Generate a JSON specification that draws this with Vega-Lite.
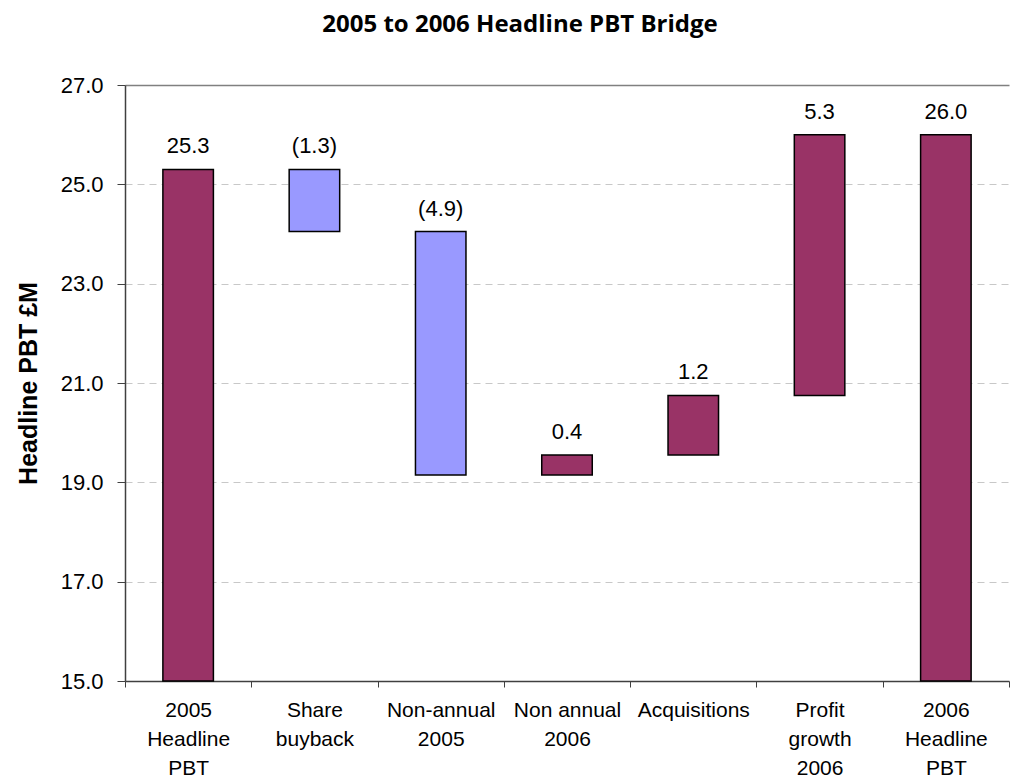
{
  "$schema": "https://vega.github.io/schema/vega-lite/v6.json",
  "width": 884,
  "height": 596,
  "autosize": {"type": "none"},
  "padding": {"left": 125, "top": 85, "right": 1, "bottom": 102},
  "background": "white",
  "title": {
    "text": "2005 to 2006 Headline PBT Bridge",
    "font": "Open Sans",
    "fontSize": 24,
    "fontWeight": "bold",
    "color": "black",
    "anchor": "middle",
    "frame": "group",
    "dx": -47,
    "offset": 37
  },
  "config": {
    "view": {"stroke": null},
    "font": "Liberation Sans",
    "axis": {"titleFont": "Liberation Sans", "labelFont": "Liberation Sans"},
    "style": {"guide-title": {"font": "Liberation Sans"}}
  },
  "data": {
    "values": [
      {"cat": "2005~Headline~PBT", "start": 15.0, "end": 25.3, "label": "25.3", "kind": "total"},
      {"cat": "Share~buyback", "start": 25.3, "end": 24.05, "label": "(1.3)", "kind": "decrease"},
      {"cat": "Non-annual~2005", "start": 24.05, "end": 19.15, "label": "(4.9)", "kind": "decrease"},
      {"cat": "Non annual~2006", "start": 19.15, "end": 19.55, "label": "0.4", "kind": "increase"},
      {"cat": "Acquisitions", "start": 19.55, "end": 20.75, "label": "1.2", "kind": "increase"},
      {"cat": "Profit~growth~2006", "start": 20.75, "end": 26.0, "label": "5.3", "kind": "increase"},
      {"cat": "2006~Headline~PBT", "start": 15.0, "end": 26.0, "label": "26.0", "kind": "total"}
    ]
  },
  "encoding": {
    "x": {
      "field": "cat",
      "type": "nominal",
      "sort": null,
      "scale": {"paddingInner": 0, "paddingOuter": 0},
      "axis": {
        "title": null,
        "labelAngle": 0,
        "labelExpr": "split(datum.label, '~')",
        "labelFont": "Liberation Sans",
        "labelFontSize": 21,
        "labelColor": "black",
        "labelLineHeight": 29,
        "labelPadding": 12,
        "labelBaseline": "top",
        "tickBand": "extent",
        "tickSize": 6,
        "tickColor": "#404040",
        "domainColor": "#404040",
        "domainWidth": 1.5,
        "grid": false
      }
    }
  },
  "layer": [
    {
      "mark": {"type": "bar", "stroke": "black", "strokeWidth": 1.5, "width": {"band": 0.4}},
      "encoding": {
        "y": {
          "field": "start",
          "type": "quantitative",
          "scale": {"domain": [15, 27], "nice": false, "zero": false},
          "axis": {
            "title": "Headline PBT £M",
            "titleFont": "Liberation Sans",
            "titleFontSize": 25,
            "titleFontWeight": "bold",
            "titleColor": "black",
            "titleX": -97,
            "titleY": 298,
            "titleAlign": "center",
            "titleBaseline": "middle",
            "titleAngle": -90,
            "values": [15, 17, 19, 21, 23, 25, 27],
            "format": ".1f",
            "labelFont": "Liberation Sans",
            "labelFontSize": 22,
            "labelColor": "black",
            "labelPadding": 14,
            "tickSize": 8,
            "tickColor": "#404040",
            "domainColor": "#404040",
            "domainWidth": 1.5,
            "grid": true,
            "gridColor": {"condition": {"test": "datum.value == 27", "value": "#808080"}, "value": "#c8c8c8"},
            "gridDash": {"condition": {"test": "datum.value == 27", "value": []}, "value": [7, 5]},
            "gridWidth": {"condition": {"test": "datum.value == 27", "value": 1.5}, "value": 1}
          }
        },
        "y2": {"field": "end"},
        "color": {
          "field": "kind",
          "type": "nominal",
          "scale": {"domain": ["total", "increase", "decrease"], "range": ["#993366", "#993366", "#9999FF"]},
          "legend": null
        }
      }
    },
    {
      "transform": [{"calculate": "max(datum.start, datum.end)", "as": "top"}],
      "mark": {"type": "text", "font": "Liberation Sans", "fontSize": 22, "color": "black", "baseline": "alphabetic", "dy": -16},
      "encoding": {
        "y": {"field": "top", "type": "quantitative"},
        "text": {"field": "label"}
      }
    }
  ]
}
